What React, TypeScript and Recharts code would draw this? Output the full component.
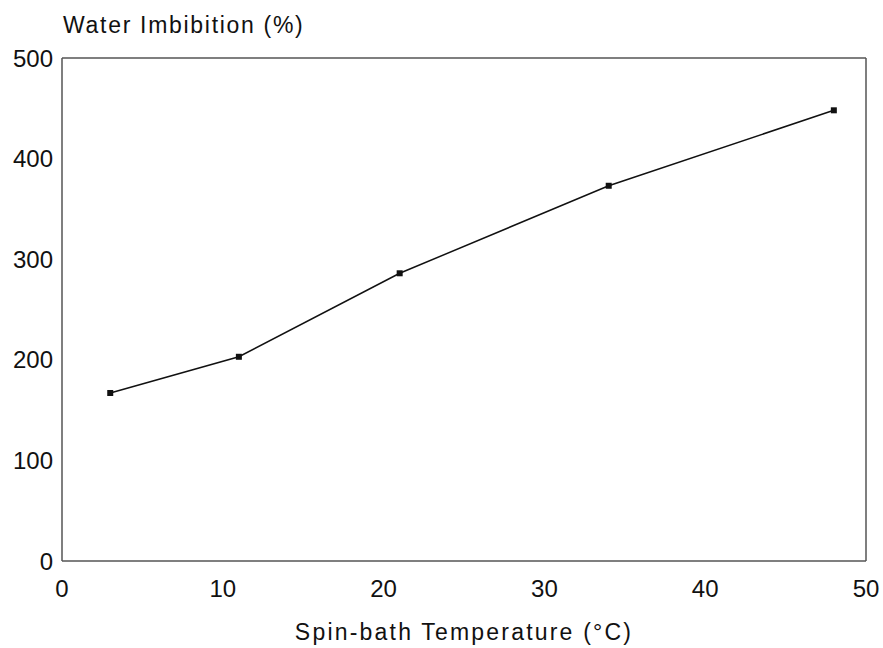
import { LineChart, Line, XAxis, YAxis, Label, ReferenceLine } from 'recharts';

const temperatures = [3, 11, 21, 34, 48];
const imbibition = [167, 203, 286, 373, 448];
const xTicks = [0, 10, 20, 30, 40, 50];
const yTicks = [0, 100, 200, 300, 400, 500];

const data = temperatures.map((t, i) => ({ t, v: imbibition[i] }));

const FONT = '"Liberation Sans", Arial, Helvetica, sans-serif';
const INK = '#111';
const FRAME = '#555';

const SquareDot = (props: any) => {
  const { cx, cy } = props;
  if (cx == null || cy == null) return null;
  return <rect x={cx - 3} y={cy - 3} width={6} height={6} fill={INK} />;
};

export default function App() {
  return (
    <div style={{ position: 'absolute', left: 0, top: 0, width: 883, height: 648, background: '#fff', fontFamily: FONT }}>
      <div
        style={{
          position: 'absolute',
          left: 63,
          top: 11,
          fontSize: 23,
          letterSpacing: 1.7,
          color: INK,
          lineHeight: '28px',
          whiteSpace: 'nowrap',
        }}
      >
        Water Imbibition (%)
      </div>
      <LineChart width={883} height={648} data={data} margin={{ top: 58, right: 17, bottom: 0, left: 0 }}>
        <XAxis
          dataKey="t"
          type="number"
          domain={[0, 50]}
          ticks={xTicks}
          tickLine={false}
          tickSize={0}
          tickMargin={19}
          height={87}
          axisLine={{ stroke: FRAME, strokeWidth: 1.5 }}
          tick={{ fill: INK, fontSize: 24, fontFamily: FONT }}
          interval={0}
        >
          <Label
            value="Spin-bath Temperature (°C)"
            position="insideBottom"
            offset={8}
            style={{ fill: INK, fontSize: 23, fontFamily: FONT, letterSpacing: 2.2 }}
          />
        </XAxis>
        <YAxis
          type="number"
          domain={[0, 500]}
          ticks={yTicks}
          tickLine={false}
          tickSize={0}
          tickMargin={9}
          width={62}
          axisLine={{ stroke: FRAME, strokeWidth: 1.5 }}
          tick={{ fill: INK, fontSize: 24, fontFamily: FONT }}
          interval={0}
        />
        <ReferenceLine y={500} stroke={FRAME} strokeWidth={1.5} />
        <ReferenceLine x={50} stroke={FRAME} strokeWidth={1.5} />
        <Line
          type="linear"
          dataKey="v"
          stroke={INK}
          strokeWidth={1.5}
          dot={<SquareDot />}
          activeDot={false}
          isAnimationActive={false}
        />
      </LineChart>
    </div>
  );
}
